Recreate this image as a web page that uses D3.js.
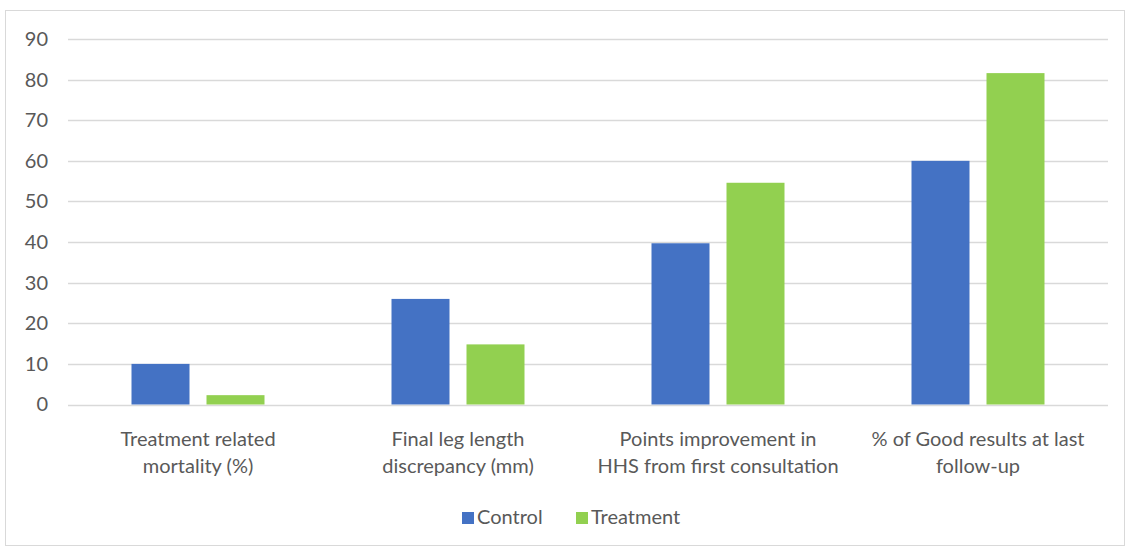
<!DOCTYPE html>
<html>
<head>
<meta charset="utf-8">
<script src="https://cdn.jsdelivr.net/npm/d3@7"></script>
<style>
  html, body { margin: 0; padding: 0; background: #fff; }
  svg { display: block; }
  text { font-family: Lato, "Open Sans", sans-serif; fill: #595959; }
</style>
</head>
<body>
<svg id="chart" width="1130" height="548"></svg>
<script>
// Outcome measures compared between groups
const categories = [
  ["Treatment related", "mortality (%)"],
  ["Final leg length", "discrepancy (mm)"],
  ["Points improvement in", "HHS from first consultation"],
  ["% of Good results at last", "follow-up"]
];
const seriesNames = ["Control", "Treatment"];
const controlValues = [10, 26, 39.7, 60];
const treatmentValues = [2.3, 14.8, 54.6, 81.6];
const yTicks = [0, 10, 20, 30, 40, 50, 60, 70, 80, 90];
const colors = ["#4472C4", "#92D050"];

const svg = d3.select("#chart");
const plot = { left: 68, right: 1108, top: 39, bottom: 404.5 };
const fontSize = 20;

// chart frame
svg.append("rect")
  .attr("x", 5.5).attr("y", 10.5)
  .attr("width", 1119).attr("height", 535)
  .attr("fill", "#fff").attr("stroke", "#d9d9d9").attr("stroke-width", 1);

const x0 = d3.scaleBand()
  .domain(d3.range(categories.length))
  .range([plot.left, plot.right])
  .padding(0);

const x1 = d3.scaleBand()
  .domain(seriesNames)
  .range([0, x0.bandwidth()])
  .paddingInner(0.2267)
  .paddingOuter(0.8467);

const y = d3.scaleLinear().domain([0, 90]).range([plot.bottom, plot.top]);

// gridlines
svg.append("g")
  .selectAll("line")
  .data(yTicks)
  .join("line")
  .attr("x1", plot.left).attr("x2", plot.right)
  .attr("y1", d => Math.round(y(d)) + 0.5)
  .attr("y2", d => Math.round(y(d)) + 0.5)
  .attr("stroke", "#d9d9d9").attr("stroke-width", 1.3);

// y axis labels
const yAxis = d3.axisLeft(y).tickValues(yTicks).tickSize(0).tickPadding(0);
const gy = svg.append("g")
  .attr("transform", `translate(${plot.left - 20},0)`)
  .call(yAxis);
gy.select(".domain").remove();
gy.selectAll("text")
  .attr("font-family", "Lato, 'Open Sans', sans-serif")
  .attr("font-size", fontSize)
  .attr("fill", "#595959");

// bars
const series = [controlValues, treatmentValues];
const groups = svg.append("g")
  .selectAll("g")
  .data(categories.map((c, i) => i))
  .join("g")
  .attr("transform", i => `translate(${x0(i)},0)`);

groups.selectAll("rect")
  .data(i => seriesNames.map((s, k) => ({ s, k, v: series[k][i] })))
  .join("rect")
  .attr("x", d => x1(d.s))
  .attr("width", x1.bandwidth())
  .attr("y", d => y(d.v))
  .attr("height", d => y(0) - y(d.v))
  .attr("fill", d => colors[d.k]);

// category labels
const xl = svg.append("g");
categories.forEach((lines, i) => {
  const cx = x0(i) + x0.bandwidth() / 2;
  const t = xl.append("text")
    .attr("text-anchor", "middle")
    .attr("font-size", fontSize);
  lines.forEach((ln, j) => {
    t.append("tspan")
      .attr("x", cx)
      .attr("y", 446 + j * 27)
      .text(ln);
  });
});

// legend
const legend = svg.append("g");
const legendItems = [
  { name: "Control", x: 462, color: colors[0] },
  { name: "Treatment", x: 576, color: colors[1] }
];
legendItems.forEach((d, k) => {
  legend.append("rect")
    .attr("x", d.x).attr("y", 512)
    .attr("width", 12).attr("height", 12)
    .attr("fill", d.color);
  legend.append("text")
    .attr("x", d.x + 15).attr("y", 523.5)
    .attr("font-size", fontSize)
    .text(seriesNames[k]);
});
</script>
</body>
</html>
